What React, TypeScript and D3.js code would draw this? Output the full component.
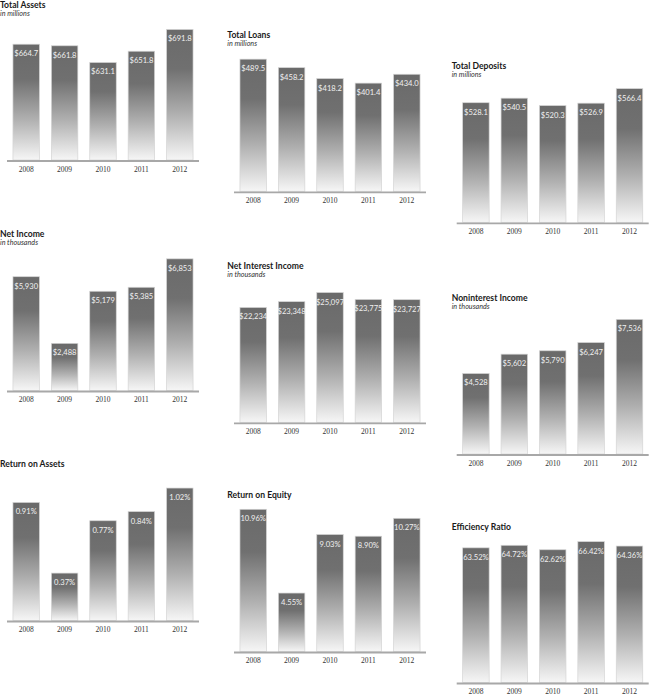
import React from 'react';
import * as d3 from 'd3';

const years = ['2008', '2009', '2010', '2011', '2012'];

const totalAssets = [664.7, 661.8, 631.1, 651.8, 691.8];
const totalLoans = [489.5, 458.2, 418.2, 401.4, 434.0];
const totalDeposits = [528.1, 540.5, 520.3, 526.9, 566.4];
const netIncome = [5930, 2488, 5179, 5385, 6853];
const netInterestIncome = [22234, 23348, 25097, 23775, 23727];
const noninterestIncome = [4528, 5602, 5790, 6247, 7536];
const returnOnAssets = [0.91, 0.37, 0.77, 0.84, 1.02];
const returnOnEquity = [10.96, 4.55, 9.03, 8.9, 10.27];
const efficiencyRatio = [63.52, 64.72, 62.62, 66.42, 64.36];

const titles = [
  'Total Assets', 'Total Loans', 'Total Deposits',
  'Net Income', 'Net Interest Income', 'Noninterest Income',
  'Return on Assets', 'Return on Equity', 'Efficiency  Ratio',
];
const subtitles = [
  'in millions', 'in millions', 'in millions',
  'in thousands', 'in thousands', 'in thousands',
  '', '', '',
];

const fmtMillions = (v: number) => '$' + d3.format('.1f')(v);
const fmtThousands = (v: number) => '$' + d3.format(',')(v);
const fmtPct = (v: number) => d3.format('.2f')(v) + '%';

type Panel = {
  values: number[];
  fmt: (v: number) => string;
  domain: [number, number];
  x0: number; x1: number; axisY: number; plotH: number;
  titleX: number; titleY: number; subY: number;
};

const series = [
  totalAssets, totalLoans, totalDeposits,
  netIncome, netInterestIncome, noninterestIncome,
  returnOnAssets, returnOnEquity, efficiencyRatio,
];
const formats = [
  fmtMillions, fmtMillions, fmtMillions,
  fmtThousands, fmtThousands, fmtThousands,
  fmtPct, fmtPct, fmtPct,
];
const domains: [number, number][] = [
  [450, 700], [0, 500], [200, 600],
  [0, 7000], [0, 30000], [0, 8000],
  [0, 1.2], [0, 12], [0, 70],
];

// layout
const colX: [number, number, number][] = [
  [7, 199, 0], [234, 426, 227.3], [456.7, 648.7, 451.7],
];
const layout = [
  { axisY: 161, plotH: 136, titleY: 8, subY: 15.5 },
  { axisY: 192.3, plotH: 136, titleY: 37.5, subY: 45.5 },
  { axisY: 223.3, plotH: 147, titleY: 68.5, subY: 77 },
  { axisY: 391.5, plotH: 135.5, titleY: 237, subY: 244.5 },
  { axisY: 423.3, plotH: 156.3, titleY: 269.3, subY: 277 },
  { axisY: 455, plotH: 144, titleY: 301, subY: 308.5 },
  { axisY: 621.5, plotH: 157, titleY: 467, subY: 0 },
  { axisY: 652.5, plotH: 156.8, titleY: 498, subY: 0 },
  { axisY: 683.5, plotH: 149.5, titleY: 530, subY: 0 },
];

const panels: Panel[] = series.map((values, i) => {
  const c = colX[i % 3];
  const l = layout[i];
  return {
    values, fmt: formats[i], domain: domains[i],
    x0: c[0], x1: c[1], titleX: c[2],
    axisY: l.axisY, plotH: l.plotH, titleY: l.titleY, subY: l.subY,
  };
});

const sans = 'Lato, "Open Sans", sans-serif';

function BarPanel({ p, idx }: { p: Panel; idx: number }) {
  const x = d3.scaleBand<string>().domain(years).range([p.x0, p.x1]).paddingInner(0.31).paddingOuter(0.155);
  const y = d3.scaleLinear().domain(p.domain).range([p.axisY, p.axisY - p.plotH]);
  return (
    <g>
      <text x={p.titleX} y={p.titleY} fontFamily={sans} fontWeight={700} fontSize={8.6} fill="#1a1a1a">
        {titles[idx]}
      </text>
      {subtitles[idx] && (
        <text x={p.titleX} y={p.subY} fontFamily={sans} fontStyle="italic" fontSize={7.2} fill="#333">
          {subtitles[idx]}
        </text>
      )}
      {p.values.map((v, i) => {
        const bx = x(years[i])!;
        const top = y(v);
        return (
          <g key={i}>
            <rect x={bx} y={top} width={x.bandwidth()} height={p.axisY - top - 1}
              fill="url(#barGrad)" stroke="#d4d4d4" strokeWidth={0.7} />
            <text x={bx + x.bandwidth() / 2} y={top + 12} textAnchor="middle"
              fontFamily={sans} fontSize={7.6} fill="#f0f0f0">
              {p.fmt(v)}
            </text>
          </g>
        );
      })}
      <line x1={p.x0} x2={p.x1} y1={p.axisY} y2={p.axisY} stroke="#a8a8a8" strokeWidth={1.8} />
      {years.map((yr) => (
        <text key={yr} x={x(yr)! + x.bandwidth() / 2} y={p.axisY + 10.5} textAnchor="middle"
          fontFamily='"Liberation Serif", "DejaVu Serif", serif' fontSize={7.5} fill="#333">
          {yr}
        </text>
      ))}
    </g>
  );
}

export default function App() {
  return (
    <svg width={650} height={695} style={{ position: 'absolute', left: 0, top: 0, background: '#fff' }}>
      <defs>
        <linearGradient id="barGrad" x1="0" y1="0" x2="0" y2="1">
          <stop offset="0%" stopColor="#6a6a6a" />
          <stop offset="30%" stopColor="#707070" />
          <stop offset="65%" stopColor="#b0b0b0" />
          <stop offset="100%" stopColor="#f6f6f6" />
        </linearGradient>
      </defs>
      <rect width={650} height={695} fill="#fff" />
      {panels.map((p, i) => <BarPanel key={i} p={p} idx={i} />)}
    </svg>
  );
}
